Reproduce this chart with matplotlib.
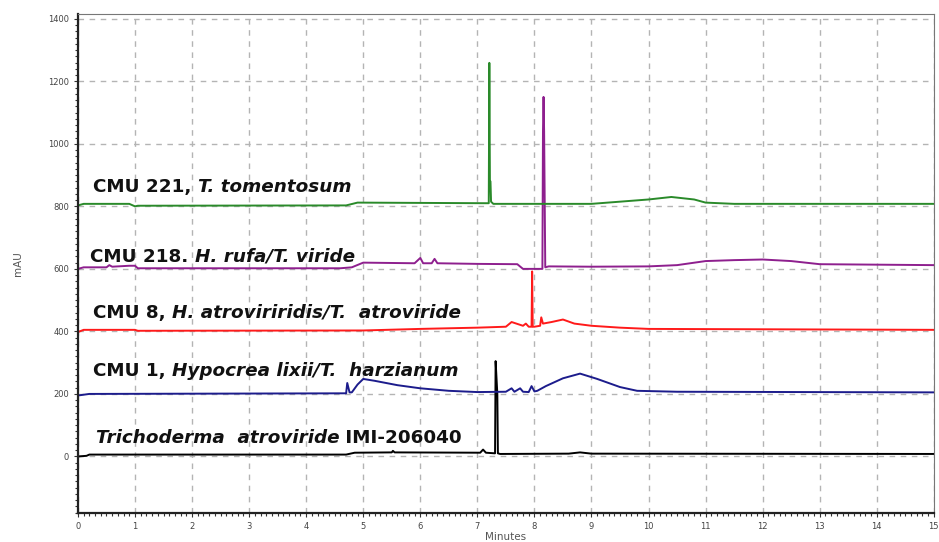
"""HPLC chromatograms of Trichoderma isolates."""

import matplotlib
matplotlib.use("Agg")
import matplotlib.pyplot as plt
import matplotlib.transforms as mtransforms
from matplotlib.ticker import MultipleLocator

# retention time (min) / absorbance (mAU)
imi_t = [0, 0.15, 0.2, 1.0, 4.7, 4.85, 5.5, 5.52, 5.55, 7.05, 7.1, 7.15, 7.31, 7.32,
         7.33, 7.35, 7.36, 7.4, 8.6, 8.8, 9.0, 15]
imi_v = [0, 2, 6, 6, 6, 12, 13, 18, 13, 12, 22, 12, 10, 305, 270, 200, 10, 8, 9, 13, 9, 8]

cmu1_t = [0, 0.2, 4.7, 4.72, 4.76, 4.8, 4.9, 5.0, 5.2, 5.6, 6.0, 6.5, 7.0, 7.5, 7.6,
          7.65, 7.75, 7.8, 7.9, 7.95, 8.0, 8.05, 8.2, 8.5, 8.8, 9.1, 9.5, 9.8, 10.5, 15]
cmu1_v = [195, 200, 202, 235, 205, 205, 230, 248, 242, 228, 218, 210, 206, 207, 218,
          207, 218, 207, 206, 225, 208, 210, 225, 250, 265, 248, 222, 210, 207, 205]

cmu8_t = [0, 0.1, 1.0, 1.05, 5.0, 6.0, 7.0, 7.5, 7.6, 7.8, 7.85, 7.9, 7.95, 7.96, 7.97,
          8.0, 8.1, 8.12, 8.15, 8.3, 8.5, 8.7, 9.0, 9.5, 10.0, 15]
cmu8_v = [398, 405, 405, 402, 403, 408, 412, 415, 430, 418, 425, 415, 415, 592, 415,
          415, 418, 445, 425, 430, 438, 425, 418, 412, 408, 405]

cmu218_t = [0, 0.1, 0.5, 0.55, 0.6, 0.9, 1.0, 1.05, 4.6, 4.8, 5.0, 5.9, 6.0, 6.05, 6.2,
            6.25, 6.3, 7.0, 7.7, 7.8, 8.14, 8.15, 8.16, 8.17, 8.19, 8.25, 9.0, 10.0,
            10.5, 11.0, 11.5, 12.0, 12.5, 13.0, 15]
cmu218_v = [600, 605, 605, 612, 607, 610, 610, 602, 602, 605, 620, 618, 635, 618, 618,
            632, 618, 616, 615, 600, 600, 1040, 1150, 1040, 605, 608, 607, 608, 612,
            625, 628, 630, 625, 615, 612]

cmu221_t = [0, 0.1, 0.9, 1.0, 1.05, 4.7, 4.9, 7.2, 7.21, 7.22, 7.23, 7.24, 7.28, 9.0,
            9.5, 10.0, 10.4, 10.8, 11.0, 11.5, 15]
cmu221_v = [803, 808, 808, 800, 802, 803, 812, 810, 1259, 880, 880, 815, 808, 808,
            815, 822, 830, 822, 812, 808, 808]

traces = [
    (imi_t, imi_v, "#000000"),
    (cmu1_t, cmu1_v, "#1c1c8c"),
    (cmu8_t, cmu8_v, "#ff1a1a"),
    (cmu218_t, cmu218_v, "#8e1f8e"),
    (cmu221_t, cmu221_v, "#2a8a2a"),
]

# label anchor (minutes, mAU) and (text, style) pieces
labels = [
    (0.26, 847, [("CMU 221, ", "normal"), ("T. tomentosum", "italic")]),
    (0.21, 623, [("CMU 218. ", "normal"), ("H. rufa/T. viride", "italic")]),
    (0.26, 444, [("CMU 8, ", "normal"), ("H. atroviriridis/T.  atroviride", "italic")]),
    (0.26, 256, [("CMU 1, ", "normal"), ("Hypocrea lixii/T.  harzianum", "italic")]),
    (0.31, 42, [("Trichoderma  atroviride", "italic"), (" IMI-206040", "normal")]),
]

fig = plt.figure(figsize=(9.39, 5.42), dpi=100)
ax = fig.add_axes([0.083, 0.054, 0.9115, 0.92])

for t, v, color in traces:
    ax.plot(t, v, color=color, linewidth=1.4)

ax.set_xlim(0, 15)
ax.set_ylim(-180, 1415)
ax.xaxis.set_major_locator(MultipleLocator(1))
ax.xaxis.set_minor_locator(MultipleLocator(0.1))
ax.yaxis.set_major_locator(MultipleLocator(200))
ax.yaxis.set_minor_locator(MultipleLocator(20))
ax.grid(True, which="major", color="#b4b4b4", linestyle=(0, (4, 4)), linewidth=1)
ax.set_axisbelow(True)

ax.tick_params(which="both", direction="out", labelsize=6, labelcolor="#444444",
               colors="#333333", width=0.8)
ax.tick_params(which="major", length=3)
ax.tick_params(which="minor", length=2)
for side in ("left", "bottom"):
    ax.spines[side].set_linewidth(1.6)
    ax.spines[side].set_color("#222222")
for side in ("top", "right"):
    ax.spines[side].set_linewidth(0.8)
    ax.spines[side].set_color("#777777")

ax.set_xlabel("Minutes", fontsize=7.5, color="#555555", labelpad=1)
ax.set_ylabel("mAU", fontsize=7.5, color="#555555", labelpad=18)

renderer = fig.canvas.get_renderer()
for x, y, parts in labels:
    offset = 0
    for text, style in parts:
        tr = mtransforms.offset_copy(ax.transData, fig=fig, x=offset, y=0, units="dots")
        txt = ax.text(x, y, text, transform=tr, family="DejaVu Sans",
                      fontweight="bold", fontstyle=style, fontsize=13.2,
                      va="baseline", ha="left", color="#111111")
        offset += txt.get_window_extent(renderer=renderer).width

fig.savefig("out.png", dpi=100)
